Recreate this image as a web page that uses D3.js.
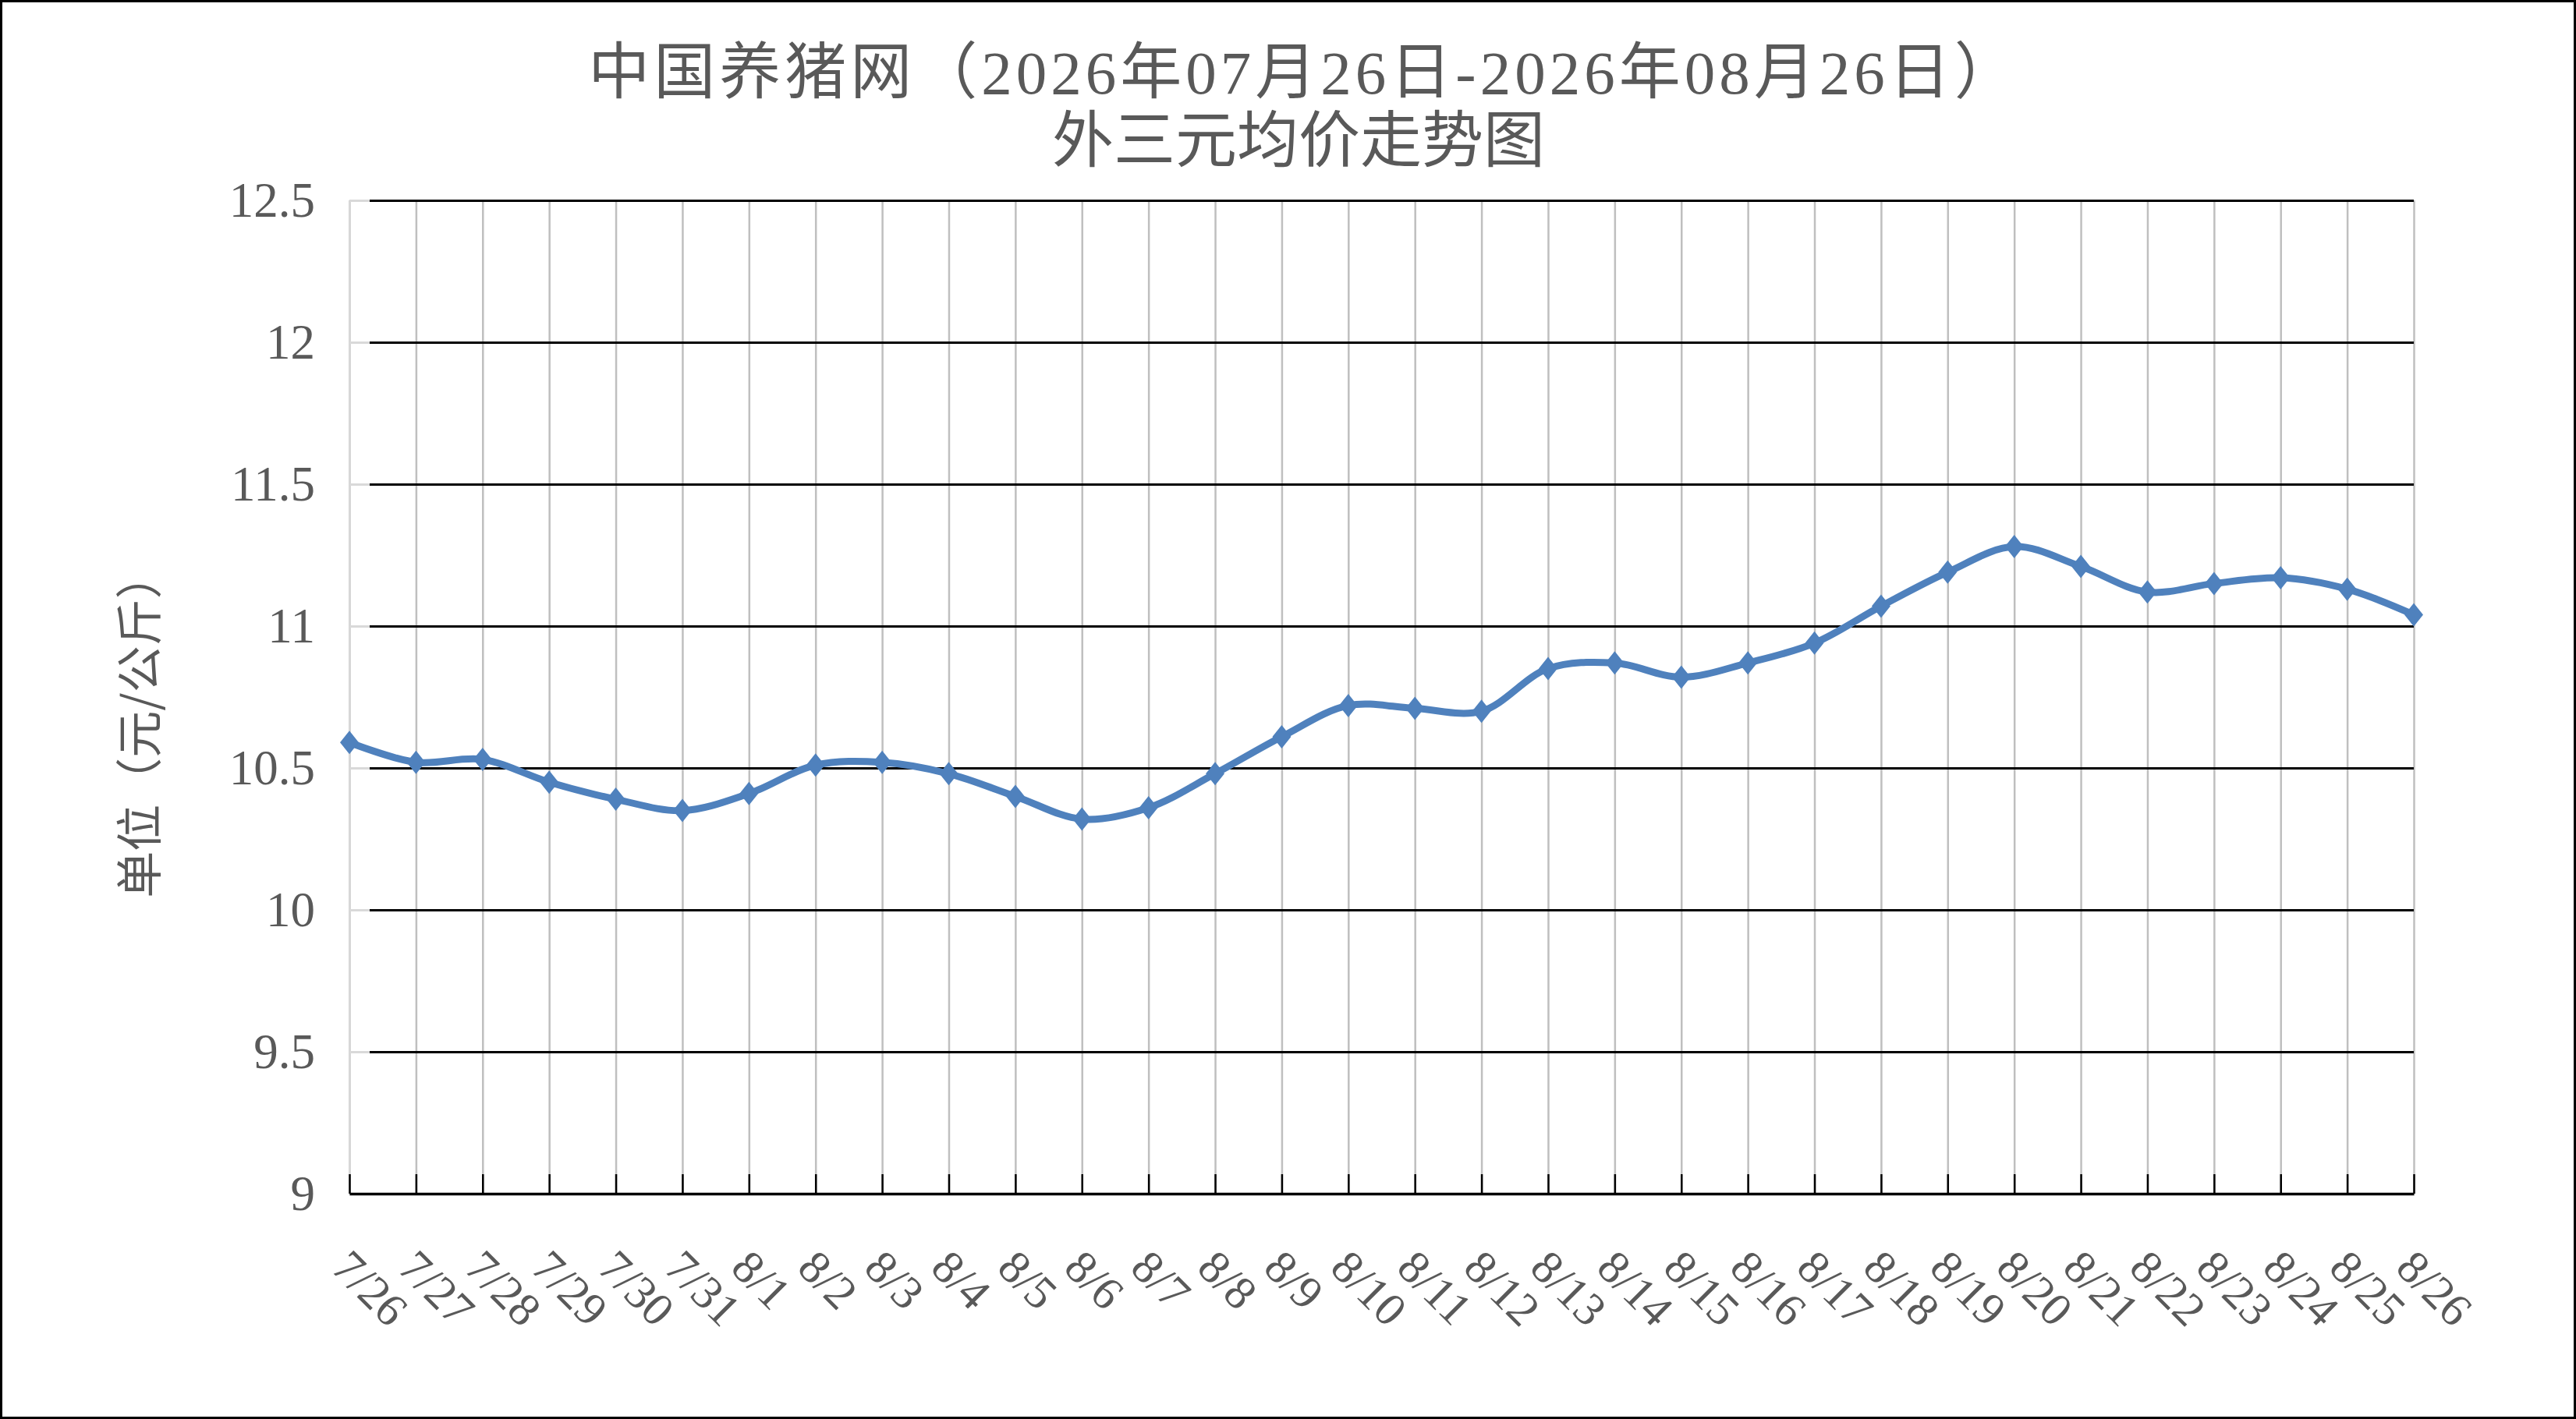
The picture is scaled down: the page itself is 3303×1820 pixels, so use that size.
<!DOCTYPE html>
<html>
<head>
<meta charset="utf-8">
<title>外三元均价走势图</title>
<script src="https://d3js.org/d3.v7.min.js"></script>
<style>
body { margin: 0; background: #fff; }
</style>
</head>
<body>
<div id="chart-area"></div>
<script>
// data
var dates = ["7/26", "7/27", "7/28", "7/29", "7/30", "7/31",
    "8/1", "8/2", "8/3", "8/4", "8/5", "8/6", "8/7", "8/8", "8/9", "8/10",
    "8/11", "8/12", "8/13", "8/14", "8/15", "8/16", "8/17", "8/18", "8/19",
    "8/20", "8/21", "8/22", "8/23", "8/24", "8/25", "8/26"];
var prices = [10.59, 10.52, 10.53, 10.45, 10.39, 10.35,
    10.41, 10.51, 10.52, 10.48, 10.40, 10.32, 10.36, 10.48, 10.61, 10.72,
    10.71, 10.70, 10.85, 10.87, 10.82, 10.87, 10.94, 11.07, 11.19,
    11.28, 11.21, 11.12, 11.15, 11.17, 11.13, 11.04];
var yTicks = [9, 9.5, 10, 10.5, 11, 11.5, 12, 12.5];
var titleLines = ["中国养猪网（2026年07月26日-2026年08月26日）", "外三元均价走势图"];
var yTitle = "单位（元/公斤）";

var W = 3303, H = 1820;
var margin = { left: 448, right: 208, top: 257, bottom: 289 };
var width = W - margin.left - margin.right,
    height = H - margin.top - margin.bottom;

var textColor = "#595959";
var lineColor = "#4f81bd";

var root = d3.select("#chart-area")
    .append("svg")
        .attr("width", W)
        .attr("height", H);

root.append("rect")
    .attr("x", 1.5).attr("y", 1.5)
    .attr("width", W - 3).attr("height", H - 3)
    .attr("fill", "#fff")
    .attr("stroke", "#000")
    .attr("stroke-width", 3);

// title: serif digits, CJK glyphs fall back to Noto Sans CJK
var titleX = [1672, 1665], titleY = [120, 208], titleSpacing = [5, 0];
root.selectAll("text.title")
    .data(titleLines)
    .enter().append("text")
        .attr("class", "title")
        .attr("x", function(d, i) { return titleX[i]; })
        .attr("y", function(d, i) { return titleY[i]; })
        .attr("text-anchor", "middle")
        .attr("letter-spacing", function(d, i) { return titleSpacing[i]; })
        .attr("font-family", "'Liberation Serif', 'Noto Sans CJK SC', serif")
        .attr("font-size", "79px")
        .attr("fill", textColor)
        .text(function(d) { return d; });

// y axis title
root.append("text")
    .attr("transform", "translate(179, 930) rotate(-90)")
    .attr("text-anchor", "middle")
    .attr("dy", "0.36em")
    .attr("font-family", "'Noto Sans CJK SC', sans-serif")
    .attr("font-size", "60px")
    .attr("fill", textColor)
    .text(yTitle);

var svg = root.append("g")
    .attr("transform", "translate(" + margin.left + ", " + margin.top + ")");

// Scales
var xScale = d3.scalePoint()
    .domain(dates)
    .range([0, width]);
var yScale = d3.scaleLinear()
    .domain([9, 12.5])
    .range([height, 0]);

// vertical gridlines
svg.append("g")
    .attr("class", "x grid")
    .attr("transform", "translate(0," + height + ")")
    .call(d3.axisBottom(xScale).tickSize(-height).tickFormat(""))
    .call(function(g) {
        g.select(".domain").remove();
        g.selectAll("line").attr("stroke", "#bfbfbf").attr("stroke-width", 2.5);
    });

// horizontal gridlines
svg.append("g")
    .attr("class", "y grid")
    .call(d3.axisLeft(yScale).tickValues(yTicks.slice(1)).tickSize(-width).tickFormat(""))
    .call(function(g) {
        g.select(".domain").remove();
        g.selectAll("line").attr("stroke", "#000").attr("stroke-width", 3);
    });

// Y Axis
svg.append("g")
    .attr("class", "y axis")
    .call(d3.axisLeft(yScale)
        .tickValues(yTicks)
        .tickSizeInner(-26)
        .tickSizeOuter(0)
        .tickPadding(44)
        .tickFormat(function(d) { return d; }))
    .call(function(g) {
        g.select(".domain").attr("stroke", "#d9d9d9").attr("stroke-width", 2.5);
        g.selectAll("line").attr("stroke", "#d9d9d9").attr("stroke-width", 3);
        g.selectAll("text")
            .attr("font-family", "'Liberation Serif', serif")
            .attr("font-size", "63px")
            .attr("fill", textColor);
    });

// X Axis
svg.append("g")
    .attr("class", "x axis")
    .attr("transform", "translate(0," + height + ")")
    .call(d3.axisBottom(xScale).tickSizeInner(-25).tickSizeOuter(0))
    .call(function(g) {
        g.select(".domain").attr("stroke", "#000").attr("stroke-width", 3.5);
        g.selectAll("line").attr("stroke", "#000").attr("stroke-width", 2.5);
        g.selectAll("text")
            .attr("x", 0)
            .attr("y", 0)
            .attr("dy", "0.35em")
            .attr("text-anchor", "start")
            .attr("transform", "translate(-11, 83) rotate(45)")
            .attr("font-family", "'Liberation Serif', serif")
            .attr("font-size", "60px")
            .attr("fill", textColor);
    });

// price line
var line = d3.line()
    .curve(d3.curveCatmullRom.alpha(0.5))
    .x(function(d, i) { return xScale(dates[i]); })
    .y(function(d) { return yScale(d); });

svg.append("path")
    .datum(prices)
    .attr("class", "line")
    .attr("d", line)
    .attr("fill", "none")
    .attr("stroke", lineColor)
    .attr("stroke-width", 9)
    .attr("stroke-linejoin", "round");

// diamond markers (a square turned 45 degrees, a bit narrower than tall)
svg.selectAll("path.marker")
    .data(prices)
    .enter().append("path")
        .attr("class", "marker")
        .attr("d", d3.symbol().type(d3.symbolSquare).size(450))
        .attr("transform", function(d, i) {
            return "translate(" + xScale(dates[i]) + "," + yScale(d) + ") scale(0.8,1) rotate(45)";
        })
        .attr("fill", lineColor);
</script>
</body>
</html>
